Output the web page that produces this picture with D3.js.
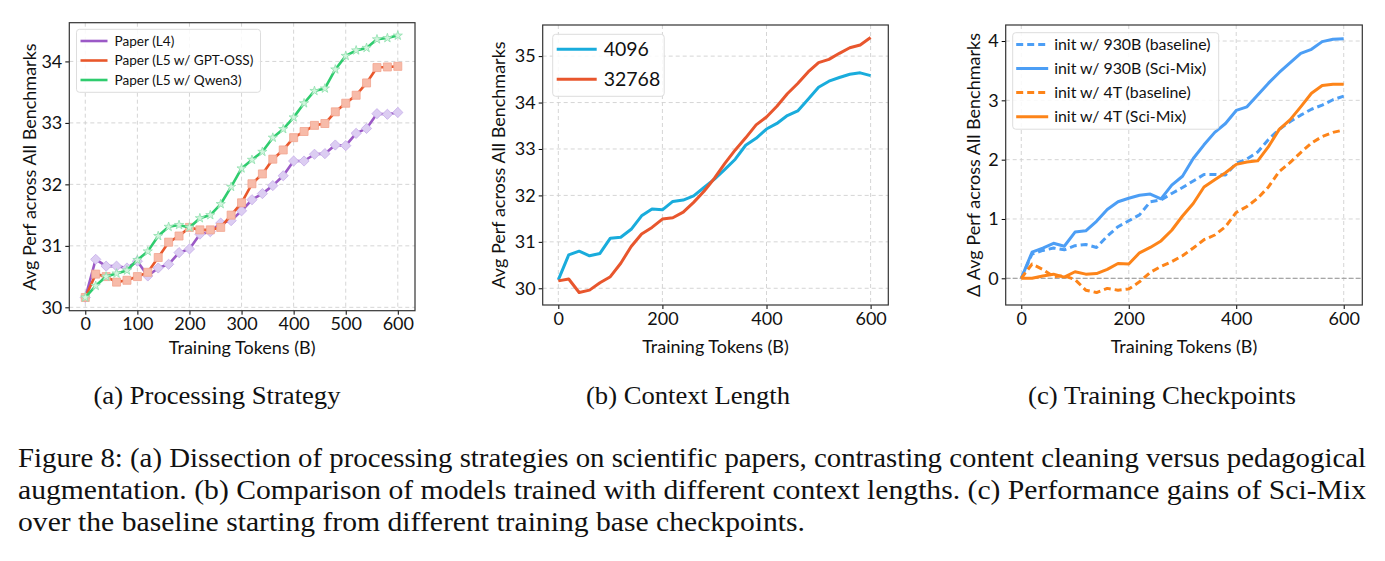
<!DOCTYPE html>
<html>
<head>
<meta charset="utf-8">
<script src="https://cdn.jsdelivr.net/npm/d3@7"></script>
<style>
  body { margin: 0; background: #fff; }
  svg text { fill: #111; }
  .tick text { font-family: Lato, "Open Sans", sans-serif; }
</style>
</head>
<body>
<svg id="fig" width="1385" height="561"></svg>
<script>
// training tokens (B), shared by all three panels
const tokens = [0, 20, 40, 60, 80, 100, 120, 140, 160, 180, 200, 220, 240, 260, 280, 300,
  320, 340, 360, 380, 400, 420, 440, 460, 480, 500, 520, 540, 560, 580, 600];

// (a) processing strategy
const paperL4 = [30.16, 30.78, 30.67, 30.67, 30.64, 30.75, 30.51, 30.64, 30.70, 30.89, 30.95,
  31.19, 31.23, 31.37, 31.41, 31.57, 31.75, 31.85, 31.98, 32.14, 32.38, 32.38, 32.49, 32.50,
  32.64, 32.63, 32.83, 32.91, 33.15, 33.14, 33.17];
const paperL5Gpt = [30.16, 30.54, 30.50, 30.41, 30.44, 30.50, 30.57, 30.81, 31.06, 31.16, 31.30,
  31.26, 31.26, 31.30, 31.50, 31.70, 32.01, 32.17, 32.41, 32.56, 32.76, 32.86, 32.96, 32.99,
  33.18, 33.32, 33.45, 33.65, 33.90, 33.91, 33.92];
const paperL5Qwen = [30.16, 30.35, 30.50, 30.55, 30.60, 30.77, 30.91, 31.16, 31.31, 31.34, 31.30,
  31.45, 31.50, 31.68, 31.96, 32.26, 32.40, 32.53, 32.76, 32.90, 33.09, 33.32, 33.52, 33.56,
  33.87, 34.09, 34.18, 34.22, 34.36, 34.38, 34.42];

// (b) context length
const ctx4096 = [30.18, 30.72, 30.80, 30.70, 30.75, 31.08, 31.10, 31.27, 31.56, 31.71, 31.69,
  31.87, 31.90, 31.99, 32.17, 32.35, 32.56, 32.78, 33.08, 33.23, 33.43, 33.55, 33.72, 33.82,
  34.07, 34.33, 34.46, 34.54, 34.61, 34.64, 34.58];
const ctx32768 = [30.16, 30.20, 29.91, 29.96, 30.12, 30.25, 30.54, 30.90, 31.17, 31.31, 31.49,
  31.52, 31.64, 31.85, 32.09, 32.37, 32.69, 32.98, 33.24, 33.52, 33.69, 33.92, 34.19, 34.41,
  34.66, 34.86, 34.93, 35.06, 35.18, 35.24, 35.40];

// (c) training checkpoints, delta vs. start
const init930Base = [0, 0.41, 0.47, 0.51, 0.48, 0.55, 0.57, 0.52, 0.71, 0.87, 0.97, 1.07, 1.29,
  1.32, 1.43, 1.53, 1.64, 1.75, 1.75, 1.74, 1.94, 2.01, 2.13, 2.34, 2.51, 2.64, 2.75, 2.85,
  2.92, 3.01, 3.07];
const init930Sci = [0, 0.44, 0.51, 0.59, 0.54, 0.78, 0.80, 0.96, 1.16, 1.29, 1.35, 1.40, 1.42,
  1.34, 1.57, 1.72, 2.02, 2.25, 2.46, 2.61, 2.83, 2.89, 3.09, 3.29, 3.47, 3.63, 3.79, 3.86,
  3.99, 4.03, 4.04];
const init4TBase = [0, 0.24, 0.15, 0.03, 0.04, -0.02, -0.20, -0.24, -0.17, -0.20, -0.18, -0.06,
  0.10, 0.20, 0.28, 0.38, 0.51, 0.65, 0.73, 0.87, 1.11, 1.21, 1.35, 1.54, 1.80, 1.95, 2.12,
  2.28, 2.39, 2.46, 2.50];
const init4TSci = [0, 0, 0.04, 0.07, 0.02, 0.11, 0.07, 0.08, 0.15, 0.25, 0.24, 0.43, 0.52, 0.63,
  0.81, 1.05, 1.26, 1.54, 1.66, 1.78, 1.92, 1.96, 1.98, 2.22, 2.51, 2.67, 2.89, 3.12, 3.25,
  3.27, 3.27];

const captions = ["(a) Processing Strategy", "(b) Context Length", "(c) Training Checkpoints"];
const figCaption = [
  "Figure 8: (a) Dissection of processing strategies on scientific papers, contrasting content cleaning versus pedagogical",
  "augmentation. (b) Comparison of models trained with different context lengths. (c) Performance gains of Sci-Mix",
  "over the baseline starting from different training base checkpoints."
];

const svg = d3.select("#fig");
const sansFont = "Lato, 'Open Sans', sans-serif";
const serifFont = "'Liberation Serif', 'Times New Roman', serif";

function drawPanel(p) {
  const x = d3.scaleLinear().domain(p.xDomain).range([p.left, p.right]);
  const y = d3.scaleLinear().domain(p.yDomain).range([p.bottom, p.top]);
  const g = svg.append("g");

  // grid
  g.selectAll(".gx").data(p.xTicks).join("line")
    .attr("x1", d => x(d)).attr("x2", d => x(d))
    .attr("y1", p.top).attr("y2", p.bottom)
    .attr("stroke", "#d0d0d0").attr("stroke-width", 0.9).attr("stroke-dasharray", "4,3");
  g.selectAll(".gy").data(p.yTicks).join("line")
    .attr("y1", d => y(d)).attr("y2", d => y(d))
    .attr("x1", p.left).attr("x2", p.right)
    .attr("stroke", "#d0d0d0").attr("stroke-width", 0.9).attr("stroke-dasharray", "4,3");

  if (p.zeroLine) {
    g.append("line")
      .attr("x1", p.left).attr("x2", p.right)
      .attr("y1", y(0)).attr("y2", y(0))
      .attr("stroke", "#999").attr("stroke-width", 1).attr("stroke-dasharray", "5,2");
  }

  // axes
  g.append("g")
    .attr("transform", "translate(0," + p.bottom + ")")
    .call(d3.axisBottom(x).tickValues(p.xTicks).tickFormat(d3.format("d")).tickSize(4).tickPadding(3))
    .call(a => a.select(".domain").remove())
    .call(a => a.selectAll("text").attr("font-size", p.tickSize).attr("fill", "#111"));
  g.append("g")
    .attr("transform", "translate(" + p.left + ",0)")
    .call(d3.axisLeft(y).tickValues(p.yTicks).tickFormat(d3.format("d")).tickSize(4).tickPadding(3))
    .call(a => a.select(".domain").remove())
    .call(a => a.selectAll("text").attr("font-size", p.tickSize).attr("fill", "#111"));

  // series
  const line = d3.line().x((d, i) => x(tokens[i])).y(d => y(d));
  p.series.forEach(s => {
    g.append("path")
      .attr("d", line(s.values))
      .attr("fill", "none")
      .attr("stroke", s.color)
      .attr("stroke-width", p.lineWidth)
      .attr("stroke-linejoin", "round")
      .attr("stroke-dasharray", s.dash || null);
    if (s.marker) {
      g.selectAll(null).data(s.values).join("path")
        .attr("transform", (d, i) => "translate(" + x(tokens[i]) + "," + y(d) + ")" + (s.marker === "diamond" ? " rotate(45)" : ""))
        .attr("d", d3.symbol().type(s.marker === "star" ? d3.symbolStar : d3.symbolSquare).size(s.markerSize))
        .attr("fill", s.markerFill)
        .attr("stroke", s.markerStroke)
        .attr("stroke-width", 0.8);
    }
  });

  // frame
  g.append("rect")
    .attr("x", p.left).attr("y", p.top)
    .attr("width", p.right - p.left).attr("height", p.bottom - p.top)
    .attr("fill", "none").attr("stroke", "#333").attr("stroke-width", 1.2);

  // legend
  const L = p.legend;
  g.append("rect")
    .attr("x", L.x).attr("y", L.y).attr("width", L.w).attr("height", L.h)
    .attr("rx", 3).attr("fill", "#fff").attr("fill-opacity", 0.85)
    .attr("stroke", "#ddd").attr("stroke-width", 1);
  p.series.forEach((s, i) => {
    const ly = L.y + L.first + i * L.step;
    g.append("line")
      .attr("x1", L.x + L.pad).attr("x2", L.x + L.pad + L.len)
      .attr("y1", ly).attr("y2", ly)
      .attr("stroke", s.color).attr("stroke-width", p.lineWidth)
      .attr("stroke-dasharray", s.dash || null);
    g.append("text")
      .attr("x", L.x + L.pad + L.len + L.gap).attr("y", ly)
      .attr("dy", "0.35em")
      .attr("font-family", sansFont).attr("font-size", L.font)
      .text(s.name);
  });

  // axis labels
  g.append("text")
    .attr("x", (p.left + p.right) / 2).attr("y", p.xLabelY)
    .attr("text-anchor", "middle").attr("dy", "0.35em")
    .attr("font-family", sansFont).attr("font-size", p.labelSize)
    .text("Training Tokens (B)");
  g.append("text")
    .attr("transform", "translate(" + p.yLabelX + "," + p.yLabelY + ") rotate(-90)")
    .attr("text-anchor", "middle").attr("dy", "0.35em")
    .attr("font-family", sansFont).attr("font-size", p.labelSize)
    .text(p.yLabel);

  // sub caption
  g.append("text")
    .attr("x", p.capX).attr("y", 395)
    .attr("text-anchor", "middle").attr("dy", "0.35em")
    .attr("font-family", serifFont).attr("font-size", 25)
    .attr("textLength", p.capW).attr("lengthAdjust", "spacingAndGlyphs")
    .text(p.caption);
}

drawPanel({
  left: 69.3, right: 415, top: 22.7, bottom: 310.7,
  xDomain: [-30.7, 633], yDomain: [29.945, 34.63],
  xTicks: [0, 100, 200, 300, 400, 500, 600], yTicks: [30, 31, 32, 33, 34],
  tickSize: 18, labelSize: 18, lineWidth: 2.6,
  yLabel: "Avg Perf across All Benchmarks", yLabelX: 30, yLabelY: 167, xLabelY: 348,
  caption: captions[0], capX: 217, capW: 247,
  legend: { x: 76.5, y: 29.3, w: 184, h: 63, pad: 4, len: 27, gap: 7, first: 11.7, step: 19.5, font: 13.6 },
  series: [
    { name: "Paper (L4)", values: paperL4, color: "#9b59c6", marker: "diamond", markerSize: 52, markerFill: "#dccdf2", markerStroke: "#c7b0ea" },
    { name: "Paper (L5 w/ GPT-OSS)", values: paperL5Gpt, color: "#e9572b", marker: "square", markerSize: 64, markerFill: "#f7bba9", markerStroke: "#f2a58f" },
    { name: "Paper (L5 w/ Qwen3)", values: paperL5Qwen, color: "#2fcc6e", marker: "star", markerSize: 26, markerFill: "#d2f5de", markerStroke: "#8fe0ad" }
  ]
});

drawPanel({
  left: 542.7, right: 888.3, top: 25, bottom: 305,
  xDomain: [-30, 634], yDomain: [29.64, 35.67],
  xTicks: [0, 200, 400, 600], yTicks: [30, 31, 32, 33, 34, 35],
  tickSize: 18, labelSize: 18, lineWidth: 3,
  yLabel: "Avg Perf across All Benchmarks", yLabelX: 499, yLabelY: 165, xLabelY: 347,
  caption: captions[1], capX: 688, capW: 204,
  legend: { x: 552.7, y: 34.3, w: 111.5, h: 62, pad: 4, len: 40, gap: 7, first: 15, step: 30, font: 19.5 },
  series: [
    { name: "4096", values: ctx4096, color: "#19acdc" },
    { name: "32768", values: ctx32768, color: "#e8562d" }
  ]
});

drawPanel({
  left: 1005.7, right: 1362.3, top: 25, bottom: 305,
  xDomain: [-29, 634.6], yDomain: [-0.45, 4.27],
  xTicks: [0, 200, 400, 600], yTicks: [0, 1, 2, 3, 4],
  tickSize: 18, labelSize: 18, lineWidth: 3,
  yLabel: "\u0394 Avg Perf across All Benchmarks", yLabelX: 974, yLabelY: 165, xLabelY: 347,
  caption: captions[2], capX: 1162, capW: 268, zeroLine: true,
  legend: { x: 1012.7, y: 32.7, w: 206, h: 96.5, pad: 3.5, len: 32, gap: 6, first: 11.7, step: 24.1, font: 15.9 },
  series: [
    { name: "init w/ 930B (baseline)", values: init930Base, color: "#4c9ef5", dash: "7,4" },
    { name: "init w/ 930B (Sci-Mix)", values: init930Sci, color: "#4c9ef5" },
    { name: "init w/ 4T (baseline)", values: init4TBase, color: "#fd8419", dash: "7,4" },
    { name: "init w/ 4T (Sci-Mix)", values: init4TSci, color: "#fd8419" }
  ]
});

// figure caption, stretched to the widths of the reference lines
const captionWidths = [1348, 1348, 787];
figCaption.forEach((t, i) => {
  svg.append("text")
    .attr("x", 18).attr("y", 458 + i * 32)
    .attr("dy", "0.35em")
    .attr("font-family", serifFont).attr("font-size", 26.5)
    .attr("textLength", captionWidths[i]).attr("lengthAdjust", "spacingAndGlyphs")
    .text(t);
});
</script>
</body>
</html>
